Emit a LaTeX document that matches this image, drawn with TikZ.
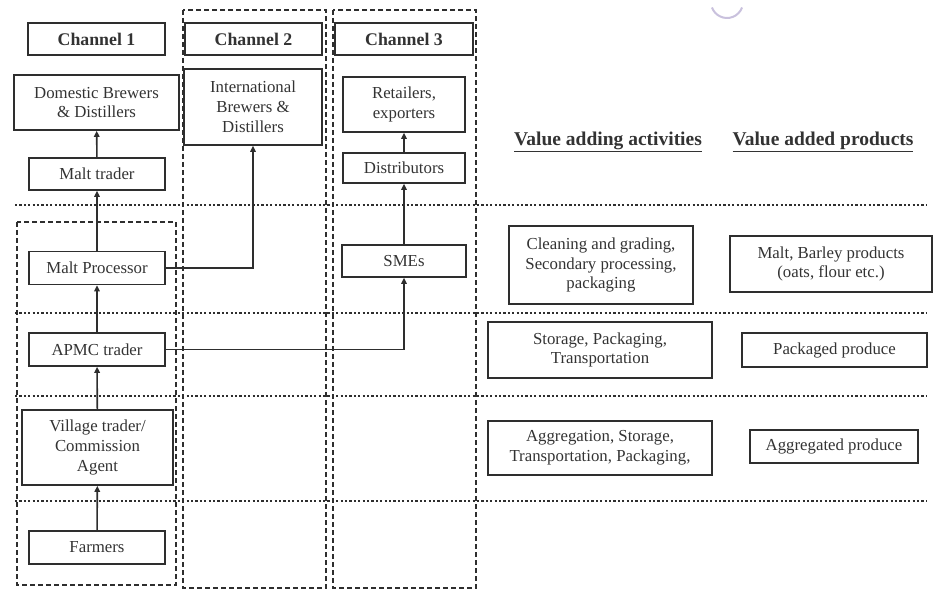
\documentclass[tikz,border=0pt]{standalone}
\usepackage{fontspec}
\setmainfont{Liberation Serif}
\usetikzlibrary{arrows.meta}
\definecolor{ink}{HTML}{2E2E2E}
\definecolor{txt}{HTML}{333333}
\definecolor{halo}{HTML}{C9C1DD}
\begin{document}
\begin{tikzpicture}[x=1pt,y=-1pt,
  box/.style={draw=ink,line width=1.7pt,align=center,inner sep=2pt,text=txt,
    font=\fontsize{16.8}{19.8}\selectfont},
  head/.style={box,font=\fontsize{17.8}{20}\selectfont\bfseries},
  flow/.style={draw=ink,line width=1.6pt,-{Triangle[width=5.5pt,length=6pt]}},
  tier/.style={draw=ink,line width=2.8pt,dash pattern=on 2.2pt off 2.2pt},
  lane/.style={draw=ink,line width=1.5pt,dash pattern=on 5pt off 3pt},
  title/.style={text=txt,font=\fontsize{19.5}{22}\selectfont\bfseries}]
\useasboundingbox (0,0) rectangle (934,593);

% lanes of the three channels
\draw[lane] (17,222) rectangle (176,585);
\draw[lane] (183,10) rectangle (326,588);
\draw[lane] (333,10) rectangle (476,588);

% tier separators
\foreach \yy in {205,313,396,501}
  \draw[tier] (15,\yy) -- (927,\yy);

% faint ring at the top
\draw[halo,line width=2pt] (727,2) ++(160:16) arc[start angle=160,end angle=20,radius=16];

% channel headers
\node[head,minimum width=137pt,minimum height=32pt] (ch1) at (96.5,39) {Channel 1};
\node[head,minimum width=137pt,minimum height=32pt] (ch2) at (253.5,39) {Channel 2};
\node[head,minimum width=138pt,minimum height=32pt] (ch3) at (404,39) {Channel 3};

% channel 1
\node[box,minimum width=165pt,minimum height=55pt] (dom) at (96.5,102.5) {Domestic Brewers\\ \& Distillers};
\node[box,minimum width=136pt,minimum height=32pt] (mtr) at (97,174) {Malt trader};
\node[box,minimum width=136pt,minimum height=33pt] (mproc) at (97,268) {Malt Processor};
\node[box,minimum width=136pt,minimum height=33pt] (apmc) at (97,349.5) {APMC trader};
\node[box,minimum width=151pt,minimum height=75pt] (vill) at (97.5,447.5) {Village trader/\\Commission\\Agent};
\node[box,minimum width=136pt,minimum height=33pt] (farm) at (97,547.5) {Farmers};

% channel 2
\node[box,minimum width=138pt,minimum height=76pt] (intl) at (253,107) {International\\Brewers \&\\Distillers};

% channel 3
\node[box,minimum width=122pt,minimum height=55pt] (ret) at (404,104.5) {Retailers,\\exporters};
\node[box,minimum width=122pt,minimum height=30pt] (dist) at (404,168) {Distributors};
\node[box,minimum width=124pt,minimum height=32pt] (sme) at (404,261) {SMEs};

% value chain columns
\node[title] (acth) at (608,142) {\underline{Value adding activities}};
\node[title] (prodh) at (823,142) {\underline{Value added products}};

\node[box,minimum width=184pt,minimum height=78pt] (act1) at (601,265) {Cleaning and grading,\\Secondary processing,\\packaging};
\node[box,minimum width=202pt,minimum height=56pt] (prod1) at (831,264) {Malt, Barley products\\(oats, flour etc.)};
\node[box,minimum width=224pt,minimum height=56pt] (act2) at (600,350) {Storage, Packaging,\\Transportation};
\node[box,minimum width=185pt,minimum height=34pt] (prod2) at (834.5,350) {Packaged produce};
\node[box,minimum width=224pt,minimum height=54pt] (act3) at (600,448) {Aggregation, Storage,\\Transportation, Packaging,};
\node[box,minimum width=168pt,minimum height=33pt] (prod3) at (834,446.5) {Aggregated produce};

% flows
\draw[flow] (farm) -- (vill);
\draw[flow] (vill) -- (apmc);
\draw[flow] (apmc) -- (mproc);
\draw[flow] (mproc) -- (mtr);
\draw[flow] (mtr) -- (dom);
\draw[flow] (mproc.east) -| (intl.south);
\draw[flow] (apmc.east) -| (sme.south);
\draw[flow] (sme) -- (dist);
\draw[flow] (dist) -- (ret);
\end{tikzpicture}
\end{document}
